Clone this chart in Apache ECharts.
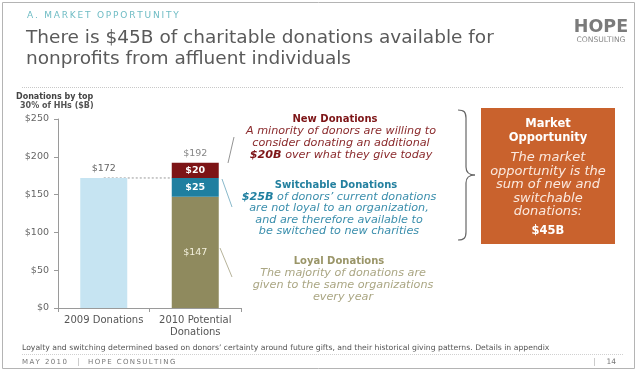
<!DOCTYPE html>
<html><head><meta charset="utf-8">
<script src="https://cdn.jsdelivr.net/npm/echarts@6/dist/echarts.min.js"></script>
<style>html,body{margin:0;padding:0;background:#fff;}#c{width:640px;height:371px;}</style>
</head><body><div id="c"></div>
<script>
// ---- data ----
const categories = ['2009 Donations', '2010 Potential\nDonations'];
const donations2009 = [172, '-'];
const loyal = ['-', 147];
const switchable = ['-', 25];
const newDon = ['-', 20];
const totals = [172, 192];
const yTicks = [0, 50, 100, 150, 200, 250];

const F = '"DejaVu Sans", sans-serif';
const chart = echarts.init(document.getElementById('c'), null, {renderer: 'canvas'});

function txt(x, y, text, size, color, opts) {
  opts = opts || {};
  return {type: 'text', silent: true, z: 10,
    style: Object.assign({x: x, y: y, text: text, fill: color,
      font: (opts.italic ? 'italic ' : '') + (opts.bold ? 'bold ' : '') + size + 'px ' + F,
      textAlign: opts.align || 'center', textVerticalAlign: 'middle'}, opts.extra || {})};
}
function spaced(s) { return s.split('').join('\u2009'); }
function line(x1, y1, x2, y2, color, w, dash) {
  return {type: 'line', silent: true, z: 10,
    shape: {x1: x1, y1: y1, x2: x2, y2: y2},
    style: {stroke: color, lineWidth: w || 1, lineDash: dash || null}};
}
function bez(x1, y1, c1x, c1y, c2x, c2y, x2, y2, color, w) {
  return {type: 'bezierCurve', silent: true, z: 10,
    shape: {x1: x1, y1: y1, cpx1: c1x, cpy1: c1y, cpx2: c2x, cpy2: c2y, x2: x2, y2: y2},
    style: {fill: null, stroke: color, lineWidth: w}};
}

const red = '#7d1416', teal = '#1f7fa0', olive = '#8f8a5e', lightBlue = '#c6e4f2';
const bc = '#666';
const BS = 11.2, TS = 10;
const newC = '#8a2a2c', swC = '#3a8eac', loyC = '#aaa683';

function rich(x, y, boldPart, rest, color, boldColor) {
  return {type: 'text', silent: true, z: 10, style: {x: x, y: y, text: '{b|' + boldPart + '}' + rest,
    font: 'italic ' + BS + 'px ' + F, fill: color, textAlign: 'center', textVerticalAlign: 'middle',
    rich: {b: {font: 'italic bold ' + BS + 'px ' + F, fill: boldColor}}}};
}

const graphics = [
  {type: 'rect', silent: true, z: 0, shape: {x: 2.5, y: 2.5, width: 632, height: 366},
   style: {fill: null, stroke: '#b4b4b4', lineWidth: 1}},
  txt(27, 16, spaced('A. MARKET OPPORTUNITY'), 9, '#6fbcc4', {align: 'left'}),
  txt(26, 38, 'There is $45B of charitable donations available for', 18.5, '#5a5a5a', {align: 'left'}),
  txt(26, 59, 'nonprofits from affluent individuals', 18.5, '#5a5a5a', {align: 'left'}),
  txt(601, 27, 'HOPE', 17.5, '#7b7b7b', {bold: true}),
  txt(601, 40.5, 'CONSULTING', 7.6, '#8a8a8a'),
  line(22, 87.5, 623, 87.5, '#c8c8c8', 1, [1, 1]),
  txt(16, 97, 'Donations by top', 8, '#444', {align: 'left', bold: true}),
  txt(20, 106, '30% of HHs ($B)', 8, '#555', {align: 'left', bold: true}),
  // New donations
  txt(335, 119, 'New Donations', TS, red, {bold: true}),
  txt(341, 131, 'A minority of donors are willing to', BS, newC, {italic: true}),
  txt(341, 143, 'consider donating an additional', BS, newC, {italic: true}),
  rich(341, 155, '$20B', ' over what they give today', newC, red),
  // Switchable
  txt(336, 185, 'Switchable Donations', TS, '#23809f', {bold: true}),
  rich(339, 197, '$25B', ' of donors\u2019 current donations', swC, teal),
  txt(339, 208.5, 'are not loyal to an organization,', BS, swC, {italic: true}),
  txt(339, 220, 'and are therefore available to', BS, swC, {italic: true}),
  txt(339, 231.5, 'be switched to new charities', BS, swC, {italic: true}),
  // Loyal
  txt(339, 261, 'Loyal Donations', TS, '#9a9568', {bold: true}),
  txt(343, 273, 'The majority of donations are', BS, loyC, {italic: true}),
  txt(343, 285, 'given to the same organizations', BS, loyC, {italic: true}),
  txt(343, 297, 'every year', BS, loyC, {italic: true}),
  // leader lines
  line(228, 163, 234, 137, '#777', 0.8),
  line(222, 179, 232, 207, '#6aa6bd', 0.8),
  line(220, 248, 232, 277, '#a3a080', 0.8),
  // brace
  bez(458, 110, 464, 110, 466, 112, 466, 118, bc, 1.2),
  line(466, 118, 466, 167, bc, 1.2),
  bez(466, 167, 466, 172, 469, 175, 475, 175, bc, 1.2),
  bez(475, 175, 469, 175, 466, 178, 466, 183, bc, 1.2),
  line(466, 183, 466, 232, bc, 1.2),
  bez(466, 232, 466, 238, 464, 240, 458, 240, bc, 1.2),
  // orange box
  {type: 'rect', silent: true, z: 9, shape: {x: 481, y: 108, width: 134, height: 136},
   style: {fill: '#c9622d', stroke: null}},
  txt(548, 124, 'Market', 11.5, '#fff', {bold: true}),
  txt(548, 138, 'Opportunity', 11.5, '#fff', {bold: true}),
  txt(548, 158, 'The market', 13, '#fbe9df', {italic: true}),
  txt(548, 171.5, 'opportunity is the', 13, '#fbe9df', {italic: true}),
  txt(548, 185, 'sum of new and', 13, '#fbe9df', {italic: true}),
  txt(548, 198.5, 'switchable', 13, '#fbe9df', {italic: true}),
  txt(548, 212, 'donations:', 13, '#fbe9df', {italic: true}),
  txt(548, 231, '$45B', 11.5, '#fff', {bold: true}),
  // footer
  txt(22, 348, 'Loyalty and switching determined based on donors\u2019 certainty around future gifts, and their historical giving patterns. Details in appendix', 7.7, '#555', {align: 'left'}),
  line(22, 354.5, 623, 354.5, '#d0d0d0', 1, [1, 1]),
  txt(22, 362, spaced('MAY 2010'), 7, '#777', {align: 'left'}),
  line(78.5, 358, 78.5, 366, '#ccc', 1),
  txt(88, 362, spaced('HOPE CONSULTING'), 7, '#777', {align: 'left'}),
  line(594.5, 358, 594.5, 366, '#ccc', 1),
  txt(616, 362, '14', 7.5, '#777', {align: 'right'})
];

const barCommon = {type: 'bar', stack: 'total', barWidth: 47, z: 3};

chart.setOption({
  animation: false,
  backgroundColor: '#fff',
  textStyle: {fontFamily: F},
  grid: {left: 58, right: 399, top: 119, bottom: 63, containLabel: false},
  xAxis: {
    type: 'category', data: categories,
    axisLine: {lineStyle: {color: '#9a9a9a'}},
    axisTick: {show: true, length: 4, lineStyle: {color: '#9a9a9a'}},
    axisLabel: {color: '#555', fontSize: 10, margin: 6, lineHeight: 12, interval: 0}
  },
  yAxis: {
    type: 'value', min: 0, max: 250, interval: 50,
    axisLine: {show: true, lineStyle: {color: '#9a9a9a'}},
    axisTick: {show: true, length: 4, lineStyle: {color: '#9a9a9a'}},
    splitLine: {show: false},
    axisLabel: {color: '#666', fontSize: 9.5, margin: 9, formatter: v => '$' + v}
  },
  series: [
    {type: 'line', data: [totals[0], totals[0]], z: 1, symbol: 'none',
     lineStyle: {color: '#999', width: 1, type: [2, 2]}, silent: true},
    Object.assign({}, barCommon, {name: '2009', data: donations2009,
      itemStyle: {color: lightBlue},
      label: {show: true, position: 'top', color: '#666', fontSize: 9.5, distance: 4, formatter: p => '$' + p.value}}),
    Object.assign({}, barCommon, {name: 'Loyal', data: loyal,
      itemStyle: {color: olive},
      label: {show: true, position: 'inside', color: '#f3f0dc', fontSize: 9.5, formatter: p => '$' + p.value}}),
    Object.assign({}, barCommon, {name: 'Switchable', data: switchable,
      itemStyle: {color: teal},
      label: {show: true, position: 'inside', color: '#fff', fontWeight: 'bold', fontSize: 9.5, formatter: p => '$' + p.value}}),
    Object.assign({}, barCommon, {name: 'New', data: newDon,
      itemStyle: {color: red},
      label: {show: true, position: 'inside', color: '#fff', fontWeight: 'bold', fontSize: 9.5, formatter: p => '$' + p.value}}),
    {type: 'scatter', data: ['-', totals[1]], symbol: 'circle', symbolSize: 1, z: 4,
     itemStyle: {color: 'rgba(0,0,0,0)'}, silent: true,
     label: {show: true, position: 'top', distance: 4, color: '#666', fontSize: 9.5, formatter: p => '$' + p.value}}
  ],
  graphic: {elements: graphics}
});
</script></body></html>
